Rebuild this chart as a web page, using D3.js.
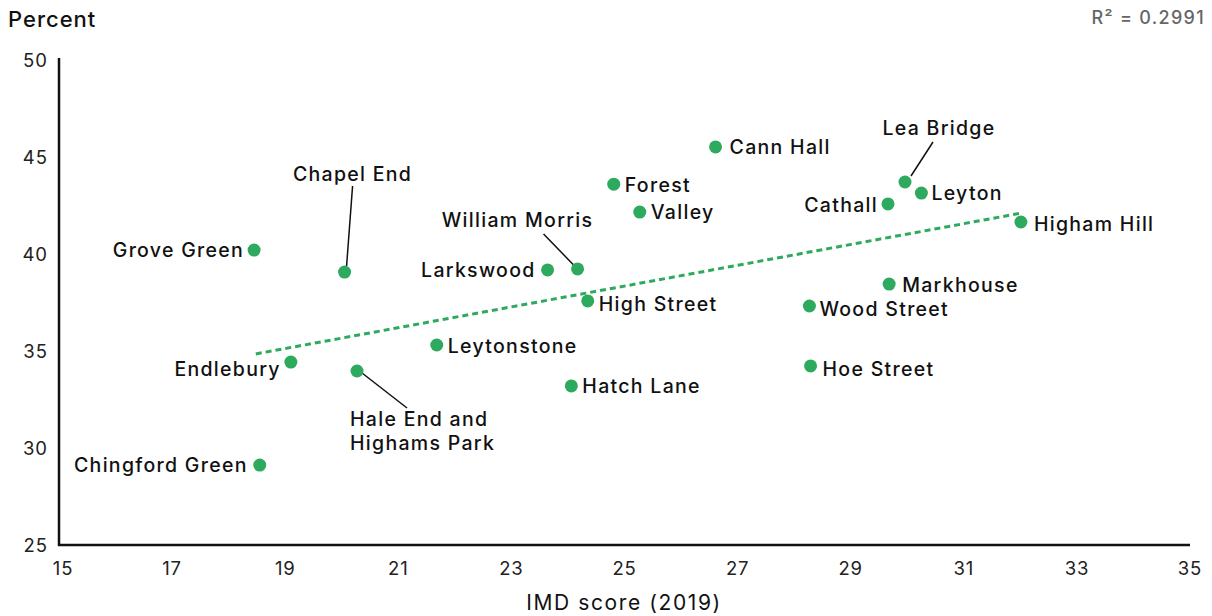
<!DOCTYPE html>
<html><head><meta charset="utf-8">
<script src="https://cdn.jsdelivr.net/npm/d3@7"></script>
<style>
body{margin:0;background:#fff;}
text{font-family:Inter,"Noto Sans",sans-serif;}
</style></head>
<body><svg id="c" width="1212" height="616"></svg>
<script>
const wards = ["Grove Green","Chapel End","Endlebury","Hale End and Highams Park","Chingford Green","Leytonstone","Hatch Lane","Larkswood","William Morris","High Street","Forest","Valley","Cann Hall","Cathall","Lea Bridge","Leyton","Higham Hill","Markhouse","Wood Street","Hoe Street"];
const imd = [18.45,20.05,19.10,20.27,18.55,21.68,24.06,23.64,24.17,24.35,24.81,25.27,26.61,29.66,29.96,30.25,32.01,29.68,28.27,28.29];
const pct = [40.2,39.07,34.43,33.97,29.12,35.31,33.2,39.18,39.23,37.58,43.6,42.16,45.52,42.58,43.71,43.14,41.65,38.45,37.32,34.23];
const xTicks = [15,17,19,21,23,25,27,29,31,33,35];
const yTicks = [25,30,35,40,45,50];
const trendX = [18.48, 32.0];
const trendY = [34.85, 42.1];
const r2Text = "R² = 0.2991";

// label layout (px offsets from point): [anchor, dx, dy(center), leader line]
const layout = {
 "Grove Green":["end",-10,0],
 "Chapel End":["middle",8,-98,[8,-86,2,-6]],
 "Endlebury":["end",-10,7],
 "Hale End and Highams Park":["start",-7,49,[5,2,50,37]],
 "Chingford Green":["end",-12,0],
 "Leytonstone":["start",11,1],
 "Hatch Lane":["start",11,0],
 "Larkswood":["end",-12,0],
 "William Morris":["middle",-60,-49,[-34,-35,-4,-4]],
 "High Street":["start",11,3],
 "Forest":["start",11,1],
 "Valley":["start",11,0],
 "Cann Hall":["start",14,0],
 "Cathall":["end",-10,1],
 "Lea Bridge":["middle",34,-54,[28,-40,6,-6]],
 "Leyton":["start",10,0],
 "Higham Hill":["start",13,2],
 "Markhouse":["start",13,1],
 "Wood Street":["start",10,3],
 "Hoe Street":["start",12,3]
};

const svg = d3.select("#c");
const x = d3.scaleLinear().domain([15,35]).range([59,1190]);
const y = d3.scaleLinear().domain([25,50]).range([545,60]);

// axes
svg.append("line").attr("x1",59).attr("x2",59).attr("y1",y(50)-2).attr("y2",y(25)+1).attr("stroke","#111").attr("stroke-width",2.5);
svg.append("line").attr("x1",58).attr("x2",x(35)).attr("y1",y(25)).attr("y2",y(25)).attr("stroke","#111").attr("stroke-width",2.5);

svg.selectAll(".xt").data(xTicks).enter().append("text")
 .attr("x",d=>x(d)+(d===15?4:0)).attr("y",575).attr("text-anchor","middle")
 .attr("font-size",18.5).attr("letter-spacing",0.8).attr("fill","#222").text(d=>d);
svg.selectAll(".yt").data(yTicks).enter().append("text")
 .attr("x",48).attr("y",d=>y(d)+6.5).attr("text-anchor","end")
 .attr("font-size",18.5).attr("letter-spacing",1).attr("fill","#222").text(d=>d);

svg.append("text").attr("x",624).attr("y",610).attr("text-anchor","middle").attr("font-size",21).attr("letter-spacing",1.6).attr("fill","#111").text("IMD score (2019)");
svg.append("text").attr("x",8).attr("y",27).attr("font-size",22).attr("font-weight",500).attr("letter-spacing",1).attr("fill","#111").text("Percent");
svg.append("text").attr("x",1205).attr("y",24).attr("text-anchor","end").attr("font-size",18).attr("font-weight",500).attr("letter-spacing",1.3).attr("fill","#666").text(r2Text);

// trendline
svg.append("line").attr("x1",x(trendX[0])).attr("y1",y(trendY[0])).attr("x2",x(trendX[1])).attr("y2",y(trendY[1]))
 .attr("stroke","#2eaa5e").attr("stroke-width",3).attr("stroke-dasharray","6,4");

const data = wards.map((w,i)=>({name:w,x:imd[i],y:pct[i]}));

// leader lines
data.forEach(d=>{
 const L = layout[d.name];
 if(L[3]){
  const px=x(d.x), py=y(d.y), l=L[3];
  svg.append("line").attr("x1",px+l[0]).attr("y1",py+l[1]).attr("x2",px+l[2]).attr("y2",py+l[3]).attr("stroke","#111").attr("stroke-width",1.5);
 }
});

svg.selectAll(".pt").data(data).enter().append("circle")
 .attr("cx",d=>x(d.x)).attr("cy",d=>y(d.y)).attr("r",6.5).attr("fill","#2eaa5e");

data.forEach(d=>{
 const L = layout[d.name];
 const px=x(d.x), py=y(d.y);
 const t = svg.append("text").attr("text-anchor",L[0]).attr("font-size",19.5).attr("font-weight",500).attr("letter-spacing",1.3).attr("fill","#111");
 if(d.name==="Hale End and Highams Park"){
   t.append("tspan").attr("x",px+L[1]).attr("y",py+L[2]+6.5).text("Hale End and");
   t.append("tspan").attr("x",px+L[1]).attr("y",py+L[2]+30.5).text("Highams Park");
 } else {
   t.attr("x",px+L[1]).attr("y",py+L[2]+7).text(d.name);
 }
});
</script></body></html>
